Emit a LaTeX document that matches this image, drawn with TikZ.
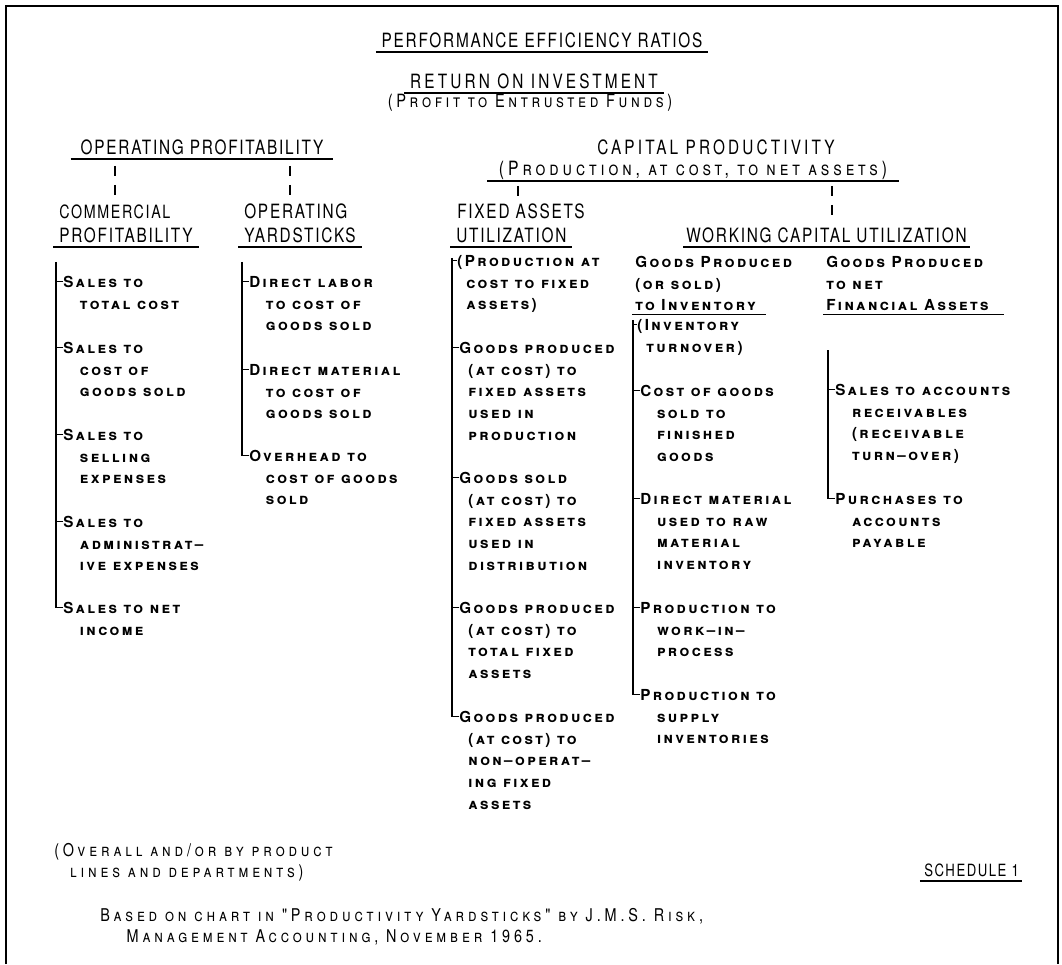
\documentclass[tikz,border=0pt]{standalone}
\usepackage{fontspec}
\setmainfont{TeX Gyre Heros}
\newfontfamily\headfont[FakeStretch=0.78,LetterSpace=9]{TeX Gyre Heros}
\newfontfamily\headwfont[FakeStretch=0.78,LetterSpace=16]{TeX Gyre Heros}
\newfontfamily\headscfont[FakeStretch=0.8,LetterSpace=20]{TeX Gyre Heros}
\newfontfamily\itemfont[LetterSpace=16]{TeX Gyre Heros}
\newfontfamily\notefont[FakeStretch=0.82,LetterSpace=22]{TeX Gyre Heros}
\newcommand{\ind}{\hspace*{1.1em}}
\newcommand{\indf}{\hspace*{0.6em}}
\tikzstyle{head} = [font=\headfont\fontsize{14}{16.4}\selectfont,inner sep=0pt]
\tikzstyle{headw} = [font=\headwfont\fontsize{14}{16.4}\selectfont,inner sep=0pt]
\tikzstyle{headsc} = [font=\headscfont\scshape\fontsize{14}{16.4}\selectfont,inner sep=0pt]
\tikzstyle{item} = [font=\itemfont\bfseries\scshape\fontsize{10.8}{15.4}\selectfont,align=left,anchor=north west,yshift=7.75pt,inner sep=0pt]
\tikzstyle{note} = [font=\notefont\scshape\fontsize{12.5}{15}\selectfont,align=left,anchor=north west,yshift=9pt,inner sep=0pt]
\tikzstyle{ul} = [line width=1.1pt,shorten <=-4pt,shorten >=-4pt]
\tikzstyle{trunk} = [line width=1.1pt]
\tikzstyle{tick} = [line width=1.1pt,dash pattern=on 7pt off 6.5pt,shorten >=6pt]

\begin{document}
\begin{tikzpicture}[x=0.025cm,y=-0.025cm]
		\useasboundingbox (0,0) rectangle (1062,964);
		\draw[line width=1.5pt] (6,964) -- (6,6) -- (1058,6) -- (1058,964);

		% headings
		\node [head,anchor=base](per) at (542,48){PERFORMANCE EFFICIENCY RATIOS};
		\node [headw,anchor=base](roi) at (534,89){RETURN ON INVESTMENT};
		\node [headsc,anchor=base,font=\headscfont\scshape\fontsize{13}{16}\selectfont](ptef) at (530,108){(Profit to Entrusted Funds)};
		\node [head,anchor=base](op) at (202,155){OPERATING PROFITABILITY};
		\node [headw,anchor=base](cap) at (716,155){CAPITAL PRODUCTIVITY};
		\node [headsc,anchor=base](cps) at (693,176){(Production, at cost, to net assets)};
		\node [head,anchor=base west,font=\headfont\fontsize{13}{16}\selectfont](com1) at (59,219){COMMERCIAL};
		\node [head,anchor=base west](com2) at (59,243){PROFITABILITY};
		\node [head,anchor=base west](yard1) at (244,219){OPERATING};
		\node [head,anchor=base west](yard2) at (244,243){YARDSTICKS};
		\node [head,anchor=base west](fix1) at (457,219){FIXED ASSETS};
		\node [head,anchor=base west](fix2) at (456,243){UTILIZATION};
		\node [head,anchor=base west](wcu) at (686,243){WORKING CAPITAL UTILIZATION};
		\node [item](gh1) at (635,267){Goods Produced\\(or sold)};
		\node [item](gh2) at (635,310){to Inventory};
		\node [item](nh1) at (826,267){Goods Produced\\to net};
		\node [item](nh2) at (826,310){Financial Assets};

		\draw[ul] ([yshift=-3pt]per.base west)--([yshift=-3pt]per.base east);
		\draw[ul] ([yshift=-3pt]roi.base west)--([yshift=-3pt]roi.base east);
		\draw[ul,shorten <=-7pt,shorten >=-7pt] ([yshift=-3pt]op.base west)--([yshift=-3pt]op.base east);
		\draw[ul,shorten <=-8pt,shorten >=-8pt] ([yshift=-3.5pt]cps.base west)--([yshift=-3.5pt]cps.base east);
		\draw[ul] ([yshift=-3pt]com2.base west)--([yshift=-3pt]com2.base east);
		\draw[ul] ([yshift=-3pt]yard2.base west)--([yshift=-3pt]yard2.base east);
		\draw[ul] ([yshift=-3pt]fix2.base west)--([yshift=-3pt]fix2.base east);
		\draw[ul,shorten <=-2pt,shorten >=-2pt] ([yshift=-3pt]wcu.base west)--([yshift=-3pt]wcu.base east);
		\draw[ul,shorten <=-2pt,shorten >=-2pt] ([yshift=-3pt]gh2.base west)--+(128,0);
		\draw[ul,shorten <=-2pt,shorten >=-2pt] ([yshift=-3pt]nh2.base west)--+(175,0);

		% ticks between levels
		\coordinate (k1) at (115,166);
		\coordinate (k2) at (290,166);
		\coordinate (k3) at (518,186);
		\coordinate (k4) at (832,186);
		\draw[tick](k1)--(k1 |- com1.north);
		\draw[tick](k2)--(k2 |- yard1.north);
		\draw[tick](k3)--(k3 |- fix1.north);
		\draw[tick](k4)--(k4 |- wcu.north);

		% commercial profitability
		\node [item](s1) at (63,287){Sales to\\\ind total cost};
		\node [item](s2) at (63,353){Sales to\\\ind cost of\\\ind goods sold};
		\node [item](s3) at (63,440){Sales to\\\ind selling\\\ind expenses};
		\node [item](s4) at (63,527){Sales to\\\ind administrat–\\\ind ive expenses};
		\node [item](s5) at (63,613){Sales to net\\\ind income};
		\coordinate (t1) at (56,262);
		\draw[trunk](t1) |- ([yshift=-3.95pt]s5.north west);
		\draw[trunk]([yshift=-3.95pt]s1.north west)-- +(-7,0);
		\draw[trunk]([yshift=-3.95pt]s2.north west)-- +(-7,0);
		\draw[trunk]([yshift=-3.95pt]s3.north west)-- +(-7,0);
		\draw[trunk]([yshift=-3.95pt]s4.north west)-- +(-7,0);

		% operating yardsticks
		\node [item](o1) at (249,287){Direct labor\\\ind to cost of\\\ind goods sold};
		\node [item](o2) at (249,375){Direct material\\\ind to cost of\\\ind goods sold};
		\node [item](o3) at (249,461){Overhead to\\\ind cost of goods\\\ind sold};
		\coordinate (t2) at (242,262);
		\draw[trunk](t2) |- ([yshift=-3.95pt]o3.north west);
		\draw[trunk]([yshift=-3.95pt]o1.north west)-- +(-7,0);
		\draw[trunk]([yshift=-3.95pt]o2.north west)-- +(-7,0);

		% fixed assets utilization
		\node [item](f1) at (457,266){(Production at\\\indf cost to fixed\\\indf assets)};
		\node [item](f2) at (459,353){Goods produced\\\indf (at cost) to\\\indf fixed assets\\\indf used in\\\indf production};
		\node [item](f3) at (459,483){Goods sold\\\indf (at cost) to\\\indf fixed assets\\\indf used in\\\indf distribution};
		\node [item](f4) at (459,613){Goods produced\\\indf (at cost) to\\\indf total fixed\\\indf assets};
		\node [item](f5) at (459,722){Goods produced\\\indf (at cost) to\\\indf non–operat–\\\indf ing fixed\\\indf assets};
		\coordinate (t3) at (452,258);
		\draw[trunk](t3) |- ([yshift=-3.95pt]f5.north west);
		\draw[trunk]([yshift=-3.95pt]f1.north west)-- +(-5,0);
		\draw[trunk]([yshift=-3.95pt]f2.north west)-- +(-7,0);
		\draw[trunk]([yshift=-3.95pt]f3.north west)-- +(-7,0);
		\draw[trunk]([yshift=-3.95pt]f4.north west)-- +(-7,0);

		% goods to inventory
		\node [item](g1) at (637,330){(Inventory\\\indf turnover)};
		\node [item](g2) at (640,396){Cost of goods\\\ind sold to\\\ind finished\\\ind goods};
		\node [item](g3) at (640,504){Direct material\\\ind used to raw\\\ind material\\\ind inventory};
		\node [item](g4) at (640,613){Production to\\\ind work–in–\\\ind process};
		\node [item](g5) at (640,700){Production to\\\ind supply\\\ind inventories};
		\coordinate (t4) at (633,320);
		\draw[trunk](t4) |- ([yshift=-3.95pt]g5.north west);
		\draw[trunk]([yshift=-3.95pt]g1.north west)-- +(-4,0);
		\draw[trunk]([yshift=-3.95pt]g2.north west)-- +(-7,0);
		\draw[trunk]([yshift=-3.95pt]g3.north west)-- +(-7,0);
		\draw[trunk]([yshift=-3.95pt]g4.north west)-- +(-7,0);

		% goods to net financial assets
		\node [item](n1) at (835,395){Sales to accounts\\\ind receivables\\\ind (receivable\\\ind turn–over)};
		\node [item](n2) at (835,504){Purchases to\\\ind accounts\\\ind payable};
		\coordinate (t5) at (828,350);
		\draw[trunk](t5) |- ([yshift=-3.95pt]n2.north west);
		\draw[trunk]([yshift=-3.95pt]n1.north west)-- +(-7,0);

		% notes
		\node [note](ov) at (54,856){(Overall and/or by product\\\hspace*{0.9em}lines and departments)};
		\node [head,anchor=base west,font=\headfont\fontsize{12}{15}\selectfont](sch) at (924,876){SCHEDULE 1};
		\draw[ul,shorten <=-3pt,shorten >=-2pt] ([yshift=-3.5pt]sch.base west)--([yshift=-3.5pt]sch.base east);
		\node [note](src) at (100,921){Based on chart in "Productivity Yardsticks" by J.M.S. Risk,\\\hspace*{1.5em}Management Accounting, November 1965.};
\end{tikzpicture}
\end{document}
